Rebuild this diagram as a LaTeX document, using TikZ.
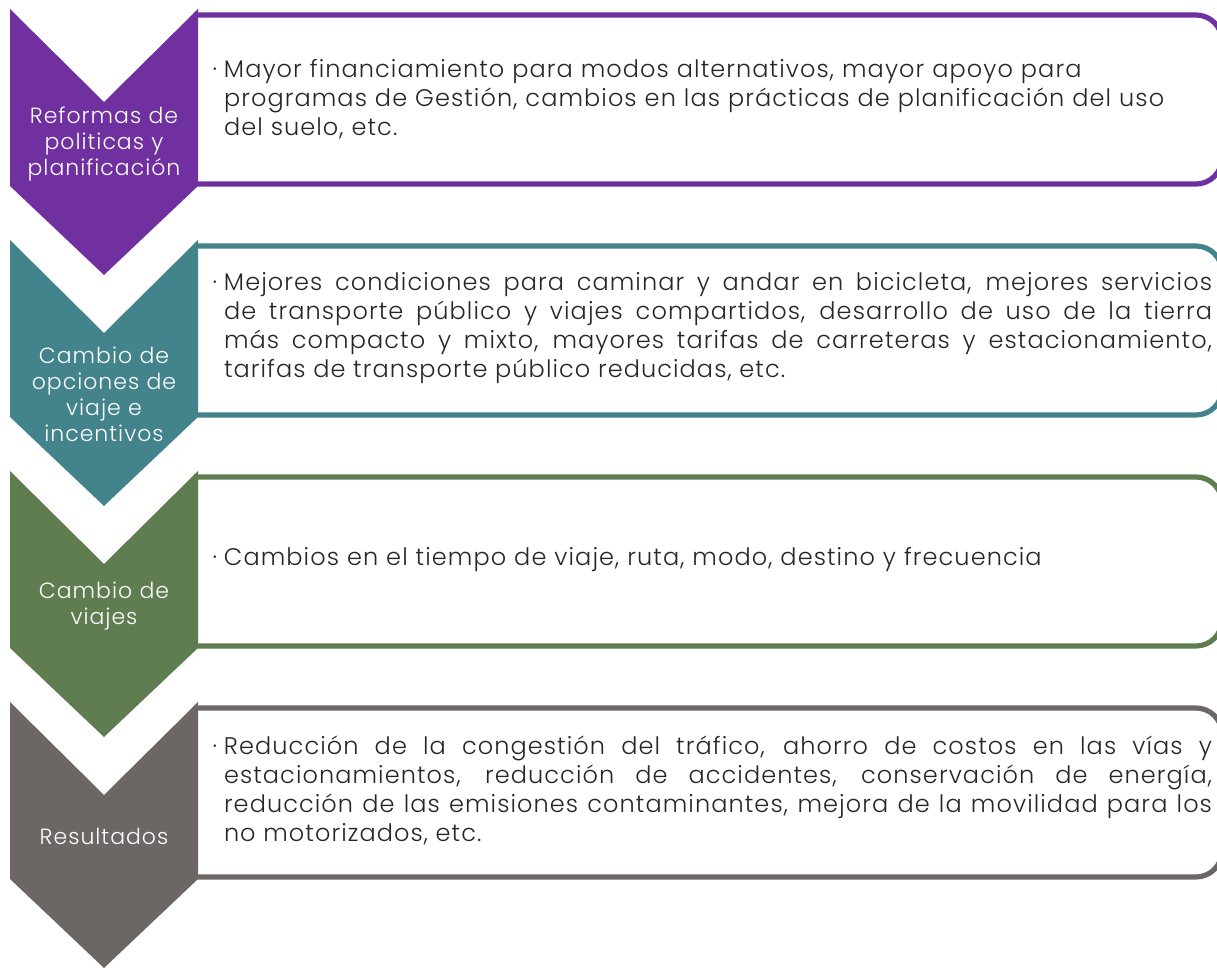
\documentclass[tikz,border=0pt]{standalone}
\usepackage{fontspec}
\setmainfont{Poppins}[UprightFont=* Light, LetterSpace=4.5]
\usepackage{xcolor}
\usepackage{tikz}
\definecolor{stagePurple}{HTML}{7030A0}
\definecolor{stageTeal}{HTML}{43838C}
\definecolor{stageGreen}{HTML}{607D52}
\definecolor{stageGray}{HTML}{6C6665}
\definecolor{bodyText}{HTML}{262626}

\begin{document}
\begin{tikzpicture}[x=0.5pt, y=-0.5pt,
  every node/.style={inner sep=0pt, outer sep=0pt},
  stagelabel/.style={text=white, font=\fontsize{11}{13}\selectfont, align=center, text width=92pt},
  stagetext/.style={anchor=west, text width=494pt, text=bodyText, font=\fontsize{12}{14.5}\selectfont},
  stageframe/.style={line width=2.6pt, rounded corners=13pt}]
\useasboundingbox (0,0) rectangle (1217,968);
% Frames (left ends hidden under the chevrons, right edge runs off the page)
\foreach \t/\c in {9/stagePurple, 240/stageTeal, 471/stageGreen, 702/stageGray} {
  \draw[stageframe, \c] (194,\t+6) -- (1222,\t+6) -- (1222,\t+175) -- (194,\t+175);
}
% Chevrons
\foreach \t/\c in {9/stagePurple, 240/stageTeal, 471/stageGreen, 702/stageGray} {
  \fill[\c] (10,\t) -- (104,\t+93) -- (198,\t) -- (198,\t+177) -- (104,\t+266) -- (10,\t+177) -- cycle;
}
% Stage labels
\node[stagelabel] (reformas) at (104,144) {Reformas de\\politicas y\\planificación};
\node[stagelabel] (opciones) at (104,394) {Cambio de\\opciones de\\viaje e\\incentivos};
\node[stagelabel] (viajes) at (104,606) {Cambio de\\viajes};
\node[stagelabel] (resultados) at (104,836) {Resultados};
% Stage descriptions
\node[stagetext, align=left] (reformasText) at (224,99) {\llap{·\hspace{3.5pt}}Mayor financiamiento para modos alternativos, mayor apoyo para\\programas de Gestión, cambios en las prácticas de planificación del uso\\del suelo, etc.};
\node[stagetext, align=justify] (opcionesText) at (224,328) {\llap{·\hspace{3.5pt}}Mejores condiciones para caminar y andar en bicicleta, mejores servicios\linebreak de transporte público y viajes compartidos, desarrollo de uso de la tierra\linebreak más compacto y mixto, mayores tarifas de carreteras y estacionamiento,\linebreak tarifas de transporte público reducidas, etc.};
\node[stagetext, align=left] (viajesText) at (224,560) {\llap{·\hspace{3.5pt}}Cambios en el tiempo de viaje, ruta, modo, destino y frecuencia};
\node[stagetext, align=justify] (resultadosText) at (224,790) {\llap{·\hspace{3.5pt}}Reducción de la congestión del tráfico, ahorro de costos en las vías y\linebreak estacionamientos, reducción de accidentes, conservación de energía,\linebreak reducción de las emisiones contaminantes, mejora de la movilidad para los\linebreak no motorizados, etc.};
\end{tikzpicture}
\end{document}
